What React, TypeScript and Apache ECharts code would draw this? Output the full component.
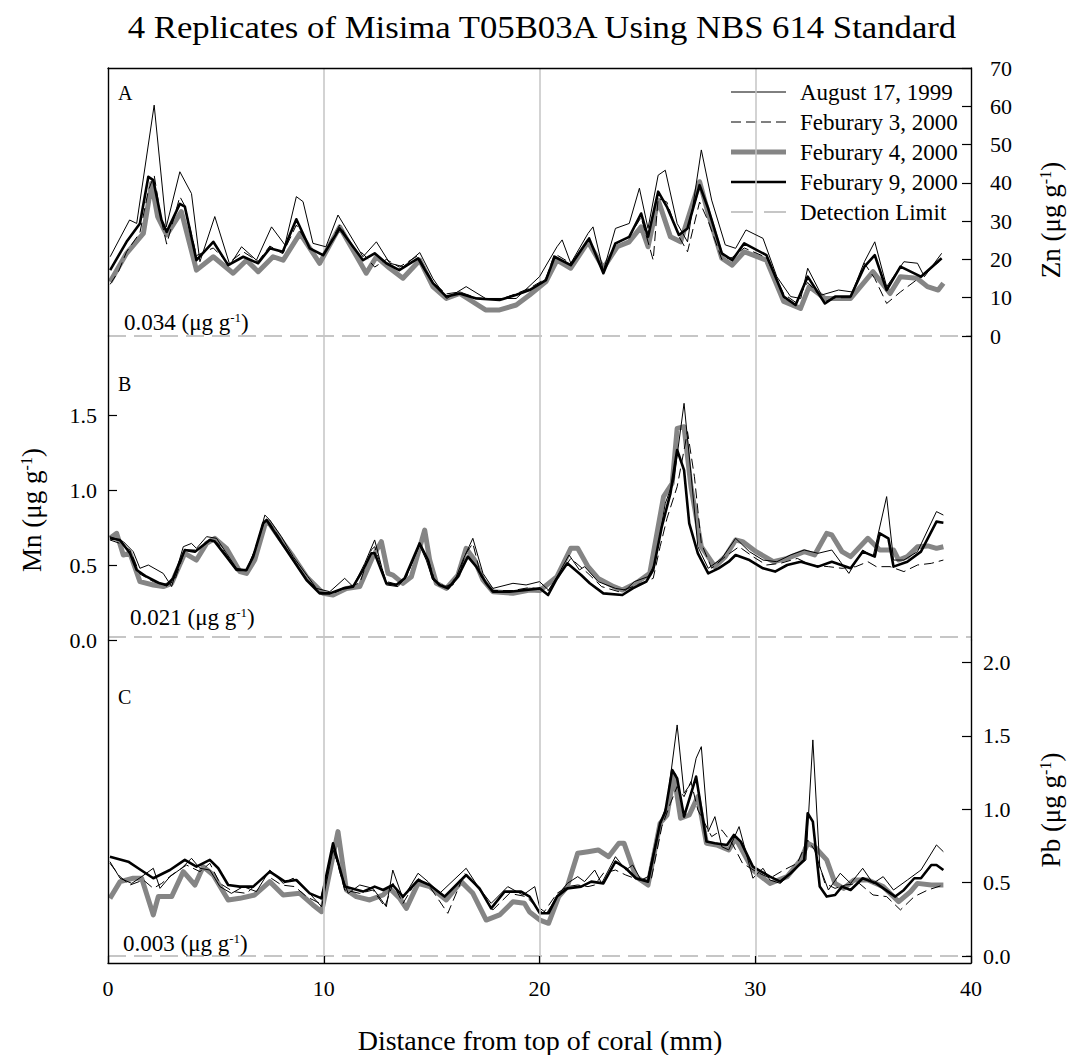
import React, { useEffect, useRef } from 'react';
import * as echarts from 'echarts';

const FONT = '"Liberation Serif", "Times New Roman", Times, serif';
const TITLE = '4 Replicates of Misima T05B03A Using NBS 614 Standard';
const X_TITLE = 'Distance from top of coral (mm)';
const RUN_NAMES = ['August 17, 1999', 'Feburary 3, 2000', 'Feburary 4, 2000', 'Feburary 9, 2000'];
const DL_NAME = 'Detection Limit';
const PANEL_LETTERS = ['A', 'B', 'C'];

// Zn (µg g-1) by depth (mm)
const znAug17 = [[0.1,20.7],[1.0,30.3],[1.33,29.4],[2.14,60.3],[2.7,28.5],[3.33,42.9],[3.87,37.2],[4.26,19.4],[4.95,31.2],[5.65,18.5],[6.19,23.3],[6.88,19.8],[7.58,28.5],[8.2,23.8],[8.73,36.4],[9.04,35.1],[9.5,24.2],[10.1,23.3],[10.66,31.6],[11.82,20.7],[12.44,24.6],[13.06,19],[13.7,18.1],[14.45,21.8],[15.06,15],[15.7,9.8],[16.6,12.9],[17.5,9.8],[18.92,9.8],[20,15.5],[20.81,23.3],[21.05,25.1],[21.45,19],[22.25,26.8],[22.48,28.5],[22.96,17],[23.52,28.1],[24.16,29.4],[24.63,38.6],[25.03,28.1],[25.5,42],[25.83,43.3],[26.38,29.4],[26.86,24.6],[27.5,48.6],[27.98,35.5],[28.61,23.8],[29.09,22.9],[29.57,27.7],[30.36,25.5],[31,15.5],[31.64,10.3],[32.11,9.8],[32.43,17.7],[33.07,10.7],[33.86,12],[34.5,11.5],[35.06,19.4],[35.54,24.6],[36.09,12.9],[36.89,19.4],[37.52,19],[37.84,15.5],[38.64,21.6]];
const znFeb3 = [[0.1,13.5],[0.5,17],[0.86,22],[1.48,27],[1.87,38],[2.14,42],[2.48,30],[2.72,24],[3.33,36.4],[3.56,34],[4.1,21],[4.88,23],[5.57,19],[6.27,22],[6.96,19.5],[7.5,23.5],[8.1,21.5],[8.73,29],[9.35,23],[9.97,21],[10.74,29],[11.36,23],[11.82,21.5],[12.36,18],[12.9,20],[13.5,18],[14.37,21],[15.06,14],[15.68,11],[16.3,11.5],[17.07,10],[18.15,9.5],[18.9,11],[19.54,12.5],[20.3,15],[20.7,21.5],[21.45,19],[22.3,25],[22.96,17],[23.52,24],[24.16,26],[24.71,31],[25.27,19.8],[25.5,36],[25.9,35],[26.46,26],[26.86,22],[27.42,35],[27.82,30],[28.45,20],[28.93,20.5],[29.49,23],[30.52,20.5],[31.32,11],[31.87,8.8],[32.43,14],[33.23,9],[33.7,10],[34.42,10],[35.06,19],[35.54,15],[36.09,8.5],[36.73,11.5],[37.68,15.5],[38.64,20]];
const znFeb4 = [[0.1,14.2],[0.86,21.6],[1.64,26.8],[2.02,39.9],[2.3,31.2],[2.72,26.4],[3.4,32.5],[4.1,17.2],[4.88,20.7],[5.8,16.4],[6.42,19.8],[6.96,16.8],[7.65,20.7],[8.12,19.8],[8.9,26.8],[9.81,19],[10.74,28.5],[11.97,16.4],[12.44,20.7],[13.06,17.7],[13.67,15.1],[14.45,19.8],[15.06,12.9],[15.68,9.8],[16.3,11.1],[17.5,6.8],[18.15,6.8],[18.92,8.1],[19.54,10.7],[20.3,14.2],[20.81,19.8],[21.45,17.7],[22.25,24.6],[22.96,17.7],[23.6,23.3],[24.16,24.6],[24.71,28.5],[25.03,23.3],[25.5,35.5],[26.07,25.9],[26.54,24.6],[27.42,40.3],[27.82,32],[28.45,20.3],[28.93,18.5],[29.49,22],[30.52,19.8],[31.32,9],[32.1,7.2],[32.5,12.9],[33.23,9.8],[34.42,9.8],[35.46,16.8],[36.25,11.1],[36.73,15.5],[37.5,15.1],[37.98,12.9],[38.48,12],[38.72,13.8]];
const znFeb9 = [[0.1,17.2],[0.86,24.6],[1.48,29.4],[1.87,41.6],[2.1,40.7],[2.48,30.3],[2.72,27.2],[3.33,34.5],[3.56,33.8],[4.1,19.8],[4.88,24.6],[5.57,18.5],[6.27,20.7],[6.96,19],[7.5,22.9],[8.1,22],[8.73,30.5],[9.35,22.9],[9.97,21.1],[10.74,28.1],[11.36,23.3],[11.82,19.8],[12.36,21.6],[12.9,19],[13.5,17.2],[14.37,20.3],[15.06,13.8],[15.68,10.3],[16.3,11.1],[17.07,9.8],[18.15,9.4],[18.9,10.7],[19.54,12],[20.3,14.6],[20.7,20.7],[21.45,18.5],[22.3,25.5],[22.96,16.4],[23.52,24.2],[24.16,25.9],[24.71,32],[25.03,25.9],[25.5,37.7],[25.9,33.8],[26.46,26.4],[26.86,28.1],[27.42,39.4],[27.82,33.3],[28.45,21.6],[28.93,19.8],[29.49,24.2],[30.52,21.1],[31.32,10.3],[31.87,8.1],[32.43,15.5],[33.23,8.5],[33.7,10.3],[34.42,10.3],[35.06,18.1],[35.54,21.1],[36.09,12],[36.73,18.1],[37.68,15.5],[38.64,20.3]];

// Mn (µg g-1) by depth (mm)
const mnAug17 = [[0.09,0.689],[0.71,0.656],[1.17,0.589],[1.48,0.478],[1.87,0.5],[2.56,0.444],[2.95,0.356],[3.49,0.622],[3.87,0.644],[4.1,0.611],[4.57,0.689],[5.03,0.678],[5.49,0.578],[5.96,0.478],[6.42,0.467],[6.88,0.622],[7.27,0.833],[7.5,0.8],[8.04,0.689],[8.58,0.556],[9.27,0.422],[9.66,0.344],[10.28,0.322],[10.97,0.411],[11.36,0.356],[11.9,0.511],[12.36,0.667],[12.9,0.367],[13.44,0.356],[13.83,0.422],[14.44,0.633],[14.75,0.533],[15.06,0.4],[15.53,0.356],[15.99,0.367],[16.45,0.533],[16.91,0.678],[17.38,0.444],[17.84,0.344],[18.77,0.378],[19.38,0.367],[20,0.389],[20.42,0.333],[20.81,0.422],[21.37,0.567],[21.85,0.467],[22.09,0.489],[22.72,0.389],[23.52,0.344],[23.99,0.333],[24.39,0.389],[25.03,0.422],[25.35,0.511],[25.83,0.911],[26.23,1.067],[26.7,1.578],[27.02,1.111],[27.34,0.622],[27.82,0.478],[28.45,0.544],[29.09,0.678],[29.73,0.589],[30.36,0.533],[31,0.522],[31.64,0.567],[32.27,0.6],[32.91,0.578],[33.55,0.6],[34.34,0.444],[34.98,0.6],[35.46,0.556],[36.09,0.956],[36.41,0.533],[36.89,0.533],[37.52,0.589],[38.4,0.856],[38.72,0.833]];
const mnFeb3 = [[0.09,0.667],[0.55,0.644],[1.02,0.6],[1.48,0.44],[2.1,0.389],[2.72,0.36],[3.1,0.4],[3.56,0.6],[4.1,0.6],[4.72,0.667],[5.1,0.644],[5.49,0.567],[5.96,0.47],[6.42,0.46],[6.8,0.6],[7.27,0.8],[7.5,0.78],[7.96,0.68],[8.58,0.54],[9.2,0.41],[9.81,0.32],[10.43,0.31],[11.05,0.35],[11.67,0.38],[12.2,0.6],[12.36,0.622],[12.9,0.39],[13.44,0.37],[13.83,0.42],[14.44,0.64],[14.83,0.54],[15.14,0.4],[15.68,0.35],[16.22,0.43],[16.6,0.58],[16.91,0.644],[17.3,0.42],[17.84,0.33],[18.77,0.33],[19.54,0.35],[20.42,0.33],[20.81,0.411],[21.45,0.544],[22.25,0.444],[22.88,0.356],[23.68,0.322],[24.32,0.356],[25.27,0.411],[25.59,0.622],[25.91,0.811],[26.38,1.022],[26.86,1.389],[27.18,1.089],[27.5,0.644],[27.98,0.478],[28.61,0.556],[29.25,0.622],[29.89,0.556],[30.52,0.5],[31.16,0.511],[31.95,0.544],[32.59,0.5],[33.39,0.489],[34.02,0.478],[34.66,0.489],[35.22,0.522],[35.61,0.489],[36.25,0.489],[36.89,0.456],[37.52,0.5],[38.16,0.511],[38.72,0.533]];
const mnFeb4 = [[0.09,0.678],[0.4,0.711],[0.71,0.567],[1.02,0.578],[1.48,0.389],[2.1,0.367],[2.56,0.356],[2.95,0.378],[3.56,0.578],[4.1,0.533],[4.57,0.644],[4.95,0.678],[5.49,0.611],[6.11,0.456],[6.42,0.444],[6.8,0.533],[7.27,0.767],[7.42,0.789],[7.96,0.678],[8.58,0.556],[9.2,0.422],[9.97,0.311],[10.43,0.3],[11.05,0.344],[11.67,0.356],[12.28,0.556],[12.67,0.656],[12.98,0.444],[13.21,0.433],[13.67,0.378],[14.06,0.422],[14.68,0.733],[14.91,0.533],[15.22,0.378],[15.68,0.344],[16.22,0.433],[16.6,0.611],[16.99,0.533],[17.38,0.4],[17.84,0.322],[18.77,0.311],[19.54,0.333],[20.02,0.33],[20.81,0.422],[21.45,0.611],[21.77,0.611],[22.25,0.489],[22.72,0.411],[23.44,0.356],[23.84,0.333],[24.47,0.378],[25.11,0.444],[25.75,0.956],[26.15,1.044],[26.38,1.411],[26.7,1.422],[27.02,1.022],[27.5,0.622],[28.13,0.489],[28.61,0.556],[29.09,0.667],[29.41,0.656],[30.04,0.589],[30.84,0.522],[31.48,0.544],[32.27,0.589],[32.75,0.567],[33.31,0.711],[33.55,0.7],[34.02,0.589],[34.42,0.556],[35.22,0.678],[35.77,0.6],[36.41,0.6],[36.65,0.533],[37.05,0.556],[37.52,0.622],[38.0,0.627],[38.4,0.611],[38.72,0.622]];
const mnFeb9 = [[0.09,0.678],[0.55,0.667],[1.02,0.578],[1.33,0.467],[1.79,0.422],[2.4,0.378],[2.72,0.367],[3.02,0.411],[3.56,0.6],[4.03,0.589],[4.72,0.667],[4.95,0.656],[5.49,0.556],[5.96,0.467],[6.42,0.467],[6.73,0.556],[7.19,0.778],[7.35,0.8],[7.96,0.667],[8.58,0.533],[9.2,0.4],[9.81,0.311],[10.28,0.311],[10.9,0.344],[11.36,0.356],[11.82,0.467],[12.2,0.578],[12.36,0.578],[12.9,0.378],[13.36,0.367],[13.75,0.411],[14.44,0.644],[14.83,0.533],[15.06,0.411],[15.37,0.367],[15.76,0.344],[16.22,0.422],[16.68,0.556],[17.07,0.489],[17.53,0.378],[17.84,0.322],[18.61,0.322],[19.38,0.333],[20.02,0.344],[20.4,0.3],[20.81,0.411],[21.29,0.511],[21.93,0.433],[22.33,0.378],[22.96,0.311],[23.84,0.3],[24.32,0.344],[24.95,0.389],[25.27,0.467],[25.67,0.756],[26.07,0.978],[26.38,1.267],[26.7,1.133],[26.94,0.778],[27.34,0.578],[27.82,0.444],[28.3,0.478],[28.77,0.522],[29.09,0.567],[29.73,0.533],[30.36,0.478],[30.92,0.456],[31.48,0.5],[32.11,0.522],[32.91,0.489],[33.55,0.522],[34.42,0.478],[34.98,0.589],[35.54,0.556],[35.77,0.711],[36.17,0.678],[36.41,0.489],[37.05,0.522],[37.68,0.589],[38.4,0.789],[38.72,0.782]];

// Pb (µg g-1) by depth (mm)
const pbAug17 = [[0.09,0.643],[0.56,0.53],[1.1,0.495],[1.56,0.541],[2.1,0.598],[2.41,0.461],[2.87,0.541],[3.41,0.598],[3.87,0.666],[4.26,0.598],[4.72,0.586],[5.19,0.473],[5.72,0.427],[6.27,0.473],[6.88,0.439],[7.5,0.586],[8.12,0.495],[8.58,0.53],[9.2,0.45],[9.9,0.336],[10.43,0.723],[11.13,0.427],[11.67,0.484],[12.28,0.461],[12.9,0.336],[13.2,0.586],[13.67,0.393],[14.37,0.564],[14.83,0.507],[15.37,0.427],[16.6,0.598],[17.15,0.473],[17.76,0.359],[18.53,0.473],[19.23,0.416],[19.78,0.473],[20.02,0.325],[20.33,0.291],[20.81,0.405],[21.29,0.495],[21.77,0.541],[22.09,0.507],[22.56,0.586],[22.88,0.495],[23.52,0.677],[24,0.586],[24.32,0.62],[24.71,0.518],[25.03,0.541],[25.51,0.859],[25.91,1.041],[26.38,1.575],[26.7,1.109],[27.02,1.177],[27.26,1.348],[27.5,1.427],[27.82,0.848],[28.13,0.95],[28.45,0.745],[28.77,0.723],[29.25,0.882],[29.89,0.53],[30.36,0.598],[30.68,0.518],[31.16,0.495],[31.8,0.586],[32.35,0.655],[32.67,1.473],[32.99,0.609],[33.39,0.45],[33.94,0.564],[34.42,0.495],[34.98,0.598],[35.46,0.495],[35.93,0.541],[36.41,0.45],[37.05,0.518],[37.68,0.586],[38.4,0.757],[38.72,0.711]];
const pbFeb3 = [[0.09,0.632],[0.56,0.541],[1.02,0.484],[1.64,0.518],[2.1,0.461],[2.49,0.495],[2.95,0.552],[3.64,0.62],[4.26,0.575],[4.72,0.632],[5.19,0.495],[5.8,0.439],[6.42,0.427],[7.34,0.552],[8.04,0.484],[8.66,0.473],[9.2,0.405],[9.81,0.359],[10.43,0.745],[10.97,0.45],[11.67,0.427],[12.28,0.45],[12.83,0.336],[13.21,0.495],[13.67,0.359],[14.37,0.53],[14.91,0.473],[15.75,0.291],[16.53,0.564],[17.22,0.45],[17.84,0.314],[18.61,0.427],[19.38,0.405],[20.0,0.314],[20.17,0.291],[20.81,0.427],[21.29,0.473],[21.77,0.484],[22.25,0.473],[22.56,0.484],[22.96,0.564],[23.52,0.586],[24,0.552],[24.63,0.518],[25.19,0.53],[25.67,0.882],[26.07,1.041],[26.38,1.155],[26.7,1.086],[27.02,1.189],[27.34,0.995],[27.98,0.814],[28.45,0.859],[28.93,0.768],[29.41,0.632],[30.04,0.575],[30.68,0.53],[31.32,0.586],[31.95,0.632],[32.43,0.791],[32.75,0.723],[33.23,0.495],[33.7,0.461],[34.18,0.484],[34.82,0.495],[35.46,0.416],[36.09,0.405],[36.73,0.314],[37.37,0.405],[38.0,0.45],[38.72,0.484]];
const pbFeb4 = [[0.09,0.393],[0.56,0.507],[1.17,0.53],[1.56,0.53],[2.1,0.28],[2.33,0.405],[2.95,0.405],[3.49,0.575],[4.03,0.484],[4.41,0.609],[4.88,0.552],[5.57,0.382],[6.11,0.393],[6.8,0.416],[7.5,0.507],[8.12,0.416],[8.89,0.427],[9.5,0.348],[9.9,0.302],[10.66,0.848],[11.05,0.45],[11.51,0.405],[12.13,0.382],[12.75,0.416],[13.06,0.461],[13.52,0.393],[13.83,0.325],[14.37,0.495],[14.91,0.473],[15.68,0.382],[16.37,0.507],[16.91,0.427],[17.53,0.245],[18.15,0.28],[18.77,0.37],[19.3,0.359],[19.54,0.3],[20.02,0.245],[20.42,0.223],[20.89,0.405],[21.29,0.473],[21.77,0.7],[22.25,0.711],[22.72,0.723],[23.2,0.677],[23.68,0.768],[23.92,0.768],[24.47,0.541],[25.03,0.484],[25.59,0.905],[25.91,0.961],[26.23,1.234],[26.54,0.939],[26.94,0.961],[27.34,1.086],[27.74,0.768],[28.21,0.757],[28.77,0.723],[29.09,0.802],[29.89,0.586],[30.68,0.495],[31.48,0.541],[32.11,0.655],[32.43,0.768],[32.75,0.745],[33.31,0.655],[33.7,0.495],[34.1,0.461],[34.58,0.518],[35.22,0.518],[35.93,0.473],[36.65,0.37],[37.2,0.439],[37.52,0.495],[38.16,0.484],[38.72,0.484]];
const pbFeb9 = [[0.09,0.677],[0.94,0.643],[1.4,0.598],[2.1,0.53],[2.87,0.586],[3.56,0.655],[4.1,0.609],[4.72,0.655],[5.11,0.598],[5.57,0.484],[6.11,0.473],[6.73,0.473],[7.5,0.575],[8.2,0.507],[8.73,0.518],[9.35,0.427],[9.9,0.393],[10.43,0.768],[10.97,0.473],[11.82,0.439],[12.36,0.473],[12.75,0.45],[13.2,0.484],[13.67,0.405],[14.37,0.518],[14.91,0.484],[15.6,0.405],[16.6,0.552],[17.22,0.461],[17.76,0.325],[18.38,0.439],[19.15,0.439],[19.54,0.405],[20.02,0.291],[20.42,0.291],[20.81,0.405],[21.29,0.461],[21.93,0.473],[22.4,0.507],[22.96,0.495],[23.52,0.643],[24,0.598],[24.47,0.53],[25.03,0.507],[25.59,0.905],[25.83,0.984],[26.15,1.268],[26.38,1.211],[26.7,0.95],[27.26,1.223],[27.74,0.78],[28.13,0.768],[28.69,0.757],[29.01,0.825],[29.33,0.78],[29.89,0.609],[30.68,0.541],[31.16,0.507],[31.64,0.564],[32.27,0.655],[32.43,0.973],[32.67,0.916],[32.99,0.473],[33.31,0.405],[33.7,0.416],[34.02,0.473],[34.42,0.45],[34.98,0.53],[35.61,0.495],[36.49,0.405],[36.89,0.45],[37.37,0.53],[37.68,0.53],[38.16,0.62],[38.4,0.62],[38.72,0.586]];

// Detection limits (µg g-1)
const ZN_DL = 0.034;
const MN_DL = 0.021;
const PB_DL = 0.003;

// Tick values
const X_TICKS = [0, 10, 20, 30, 40];
const ZN_TICKS = [0, 10, 20, 30, 40, 50, 60, 70];
const MN_TICKS = [0, 0.5, 1.0, 1.5];
const PB_TICKS = [0, 0.5, 1.0, 1.5, 2.0];

const RUN_STYLES = [
  { color: '#000000', width: 1, type: 'solid' as any, z: 3 },
  { color: '#000000', width: 1, type: [10, 5] as any, z: 3 },
  { color: '#858585', width: 5, type: 'solid' as any, z: 2 },
  { color: '#000000', width: 2.6, type: 'solid' as any, z: 4 },
];
const DL_STYLE = { color: '#c6c6c6', width: 2, type: [18, 8] as any };
const GRID_LINE = '#c4c4c4';

const PLOT_LEFT = 108;
const PLOT_RIGHT = 98;

const supRich = (size: number, supSize: number) => ({
  a: { fontSize: size, fontFamily: FONT, color: '#000', fill: '#000' },
  s: { fontSize: supSize, fontFamily: FONT, color: '#000', fill: '#000', verticalAlign: 'top', lineHeight: supSize },
});
const unitText = (lead: string) => `{a|${lead} (μg g}{s|-1}{a|)}`;

const baseTick = { fontFamily: FONT, fontSize: 22, color: '#000' };

function buildOption() {
  const panels = [
    { runs: [znAug17, znFeb3, znFeb4, znFeb9], dl: ZN_DL, xAxisIndex: 0, yAxisIndex: 0, labelDist: 2 },
    { runs: [mnAug17, mnFeb3, mnFeb4, mnFeb9], dl: MN_DL, xAxisIndex: 2, yAxisIndex: 2, labelDist: 8 },
    { runs: [pbAug17, pbFeb3, pbFeb4, pbFeb9], dl: PB_DL, xAxisIndex: 3, yAxisIndex: 4, labelDist: 1 },
  ];

  const series: any[] = [];
  panels.forEach((p) => {
    p.runs.forEach((data, i) => {
      const st = RUN_STYLES[i];
      const s: any = {
        type: 'line',
        name: RUN_NAMES[i],
        xAxisIndex: p.xAxisIndex,
        yAxisIndex: p.yAxisIndex,
        data,
        symbol: 'none',
        silent: true,
        z: st.z,
        lineStyle: { color: st.color, width: st.width, type: st.type, join: 'round' },
        itemStyle: { color: st.color },
      };
      if (i === 2) {
        s.markLine = {
          silent: true,
          symbol: ['none', 'none'],
          animation: false,
          lineStyle: DL_STYLE,
          emphasis: { disabled: true },
          label: {
            show: true,
            position: 'insideStartTop',
            distance: p.labelDist,
            padding: [0, 0, 0, 14],
            formatter: unitText(String(p.dl)),
            rich: supRich(23, 13),
          },
          data: [{ name: DL_NAME, yAxis: p.dl }],
        };
      }
      series.push(s);
    });
  });

  const hiddenX = (gridIndex: number) => ({
    type: 'value', gridIndex, min: 0, max: 40, interval: 10,
    axisLine: { show: false, onZero: false }, axisTick: { show: false }, axisLabel: { show: false },
    splitLine: { show: true, showMinLine: false, showMaxLine: false, lineStyle: { color: GRID_LINE, width: 1.5 } },
  });
  const frameY = (gridIndex: number, position: string) => ({
    type: 'value', gridIndex, position, min: 0, max: 1, z: 5,
    axisLine: { show: true, onZero: false, lineStyle: { color: '#000', width: 1.4 } },
    axisTick: { show: false }, axisLabel: { show: false }, splitLine: { show: false },
  });

  const legendRows = [
    { name: RUN_NAMES[0], ...RUN_STYLES[0] },
    { name: RUN_NAMES[1], ...RUN_STYLES[1] },
    { name: RUN_NAMES[2], ...RUN_STYLES[2] },
    { name: RUN_NAMES[3], ...RUN_STYLES[3] },
    { name: DL_NAME, color: DL_STYLE.color, width: 2, type: [22, 11] as any },
  ];
  const legendGraphics: any[] = [];
  legendRows.forEach((r, i) => {
    const y = 92 + i * 30;
    legendGraphics.push({
      type: 'line', silent: true,
      shape: { x1: 731, y1: y, x2: 786, y2: y },
      style: { stroke: r.color, lineWidth: r.width, lineDash: Array.isArray(r.type) ? r.type : null },
    });
    legendGraphics.push({
      type: 'text', silent: true, x: 800, y,
      style: { text: r.name, fontFamily: FONT, fontSize: 23, fill: '#000', align: 'left', verticalAlign: 'middle' },
    });
  });

  const letterY = [93, 384, 697];

  return {
    animation: false,
    backgroundColor: '#ffffff',
    grid: [
      { left: PLOT_LEFT, right: PLOT_RIGHT, top: 68, height: 268 },
      { left: PLOT_LEFT, right: PLOT_RIGHT, top: 336, height: 304 },
      { left: PLOT_LEFT, right: PLOT_RIGHT, top: 640, height: 323 },
    ],
    xAxis: [
      hiddenX(0),
      {
        type: 'value', gridIndex: 0, position: 'top', min: 0, max: 40, interval: 10, z: 5,
        axisLine: { show: true, onZero: false, lineStyle: { color: '#000', width: 1.4 } },
        axisTick: { show: false }, axisLabel: { show: false }, splitLine: { show: false },
      },
      hiddenX(1),
      {
        type: 'value', gridIndex: 2, position: 'bottom', min: 0, max: 40, interval: 10, z: 5,
        axisLine: { show: true, onZero: false, lineStyle: { color: '#000', width: 1.4 } },
        axisTick: { show: true, inside: true, length: 7, customValues: X_TICKS, lineStyle: { color: '#000', width: 1.2 } },
        axisLabel: { show: true, customValues: X_TICKS, margin: 14, ...baseTick },
        splitLine: { show: true, showMinLine: false, showMaxLine: false, lineStyle: { color: GRID_LINE, width: 1.5 } },
      },
    ],
    yAxis: [
      {
        type: 'value', gridIndex: 0, position: 'right', min: 0, max: 70, interval: 10, z: 5,
        axisLine: { show: true, onZero: false, lineStyle: { color: '#000', width: 1.4 } },
        axisTick: { show: true, inside: true, length: 9, customValues: ZN_TICKS, lineStyle: { color: '#000', width: 1.2 } },
        axisLabel: { show: true, customValues: ZN_TICKS, margin: 19, ...baseTick },
        splitLine: { show: false },
      },
      frameY(0, 'left'),
      {
        type: 'value', gridIndex: 1, position: 'left', min: 0, max: 304 / 150, z: 5,
        axisLine: { show: true, onZero: false, lineStyle: { color: '#000', width: 1.4 } },
        axisTick: { show: true, inside: true, length: 9, customValues: MN_TICKS, lineStyle: { color: '#000', width: 1.2 } },
        axisLabel: { show: true, customValues: MN_TICKS, margin: 11, formatter: (v: number) => v.toFixed(1), ...baseTick },
        splitLine: { show: false },
      },
      frameY(1, 'right'),
      {
        type: 'value', gridIndex: 2, position: 'right', min: -7 / 146.7, max: 316 / 146.7, z: 5,
        axisLine: { show: true, onZero: false, lineStyle: { color: '#000', width: 1.4 } },
        axisTick: { show: true, inside: true, length: 9, customValues: PB_TICKS, lineStyle: { color: '#000', width: 1.2 } },
        axisLabel: { show: true, customValues: PB_TICKS, margin: 12, formatter: (v: number) => v.toFixed(1), ...baseTick },
        splitLine: { show: false },
      },
      frameY(2, 'left'),
    ],
    series,
    graphic: [
      {
        type: 'text', silent: true, x: 542, y: 27, scaleX: 1.085,
        style: { text: TITLE, fontFamily: FONT, fontSize: 32, fill: '#000', align: 'center', verticalAlign: 'middle' },
      },
      {
        type: 'text', silent: true, x: 540, y: 1040,
        style: { text: X_TITLE, fontFamily: FONT, fontSize: 28, fill: '#000', align: 'center', verticalAlign: 'middle' },
      },
      {
        type: 'text', silent: true, x: 32, y: 510, rotation: Math.PI / 2,
        style: { text: unitText('Mn'), rich: supRich(27, 16), align: 'center', verticalAlign: 'middle' },
      },
      {
        type: 'text', silent: true, x: 1051, y: 220, rotation: Math.PI / 2,
        style: { text: unitText('Zn'), rich: supRich(27, 16), align: 'center', verticalAlign: 'middle' },
      },
      {
        type: 'text', silent: true, x: 1051, y: 810, rotation: Math.PI / 2,
        style: { text: unitText('Pb'), rich: supRich(27, 16), align: 'center', verticalAlign: 'middle' },
      },
      ...PANEL_LETTERS.map((t, i) => ({
        type: 'text', silent: true, x: 118, y: letterY[i],
        style: { text: t, fontFamily: FONT, fontSize: 20, fill: '#000', align: 'left', verticalAlign: 'middle' },
      })),
      ...legendGraphics,
    ],
  };
}

export default function App() {
  const ref = useRef<HTMLDivElement>(null);
  useEffect(() => {
    if (!ref.current) return;
    const chart = echarts.init(ref.current, null, { renderer: 'svg' });
    chart.setOption(buildOption() as any);
    return () => chart.dispose();
  }, []);
  return (
    <div
      ref={ref}
      style={{ position: 'fixed', left: 0, top: 0, width: 1069, height: 1055, background: '#fff' }}
    />
  );
}
